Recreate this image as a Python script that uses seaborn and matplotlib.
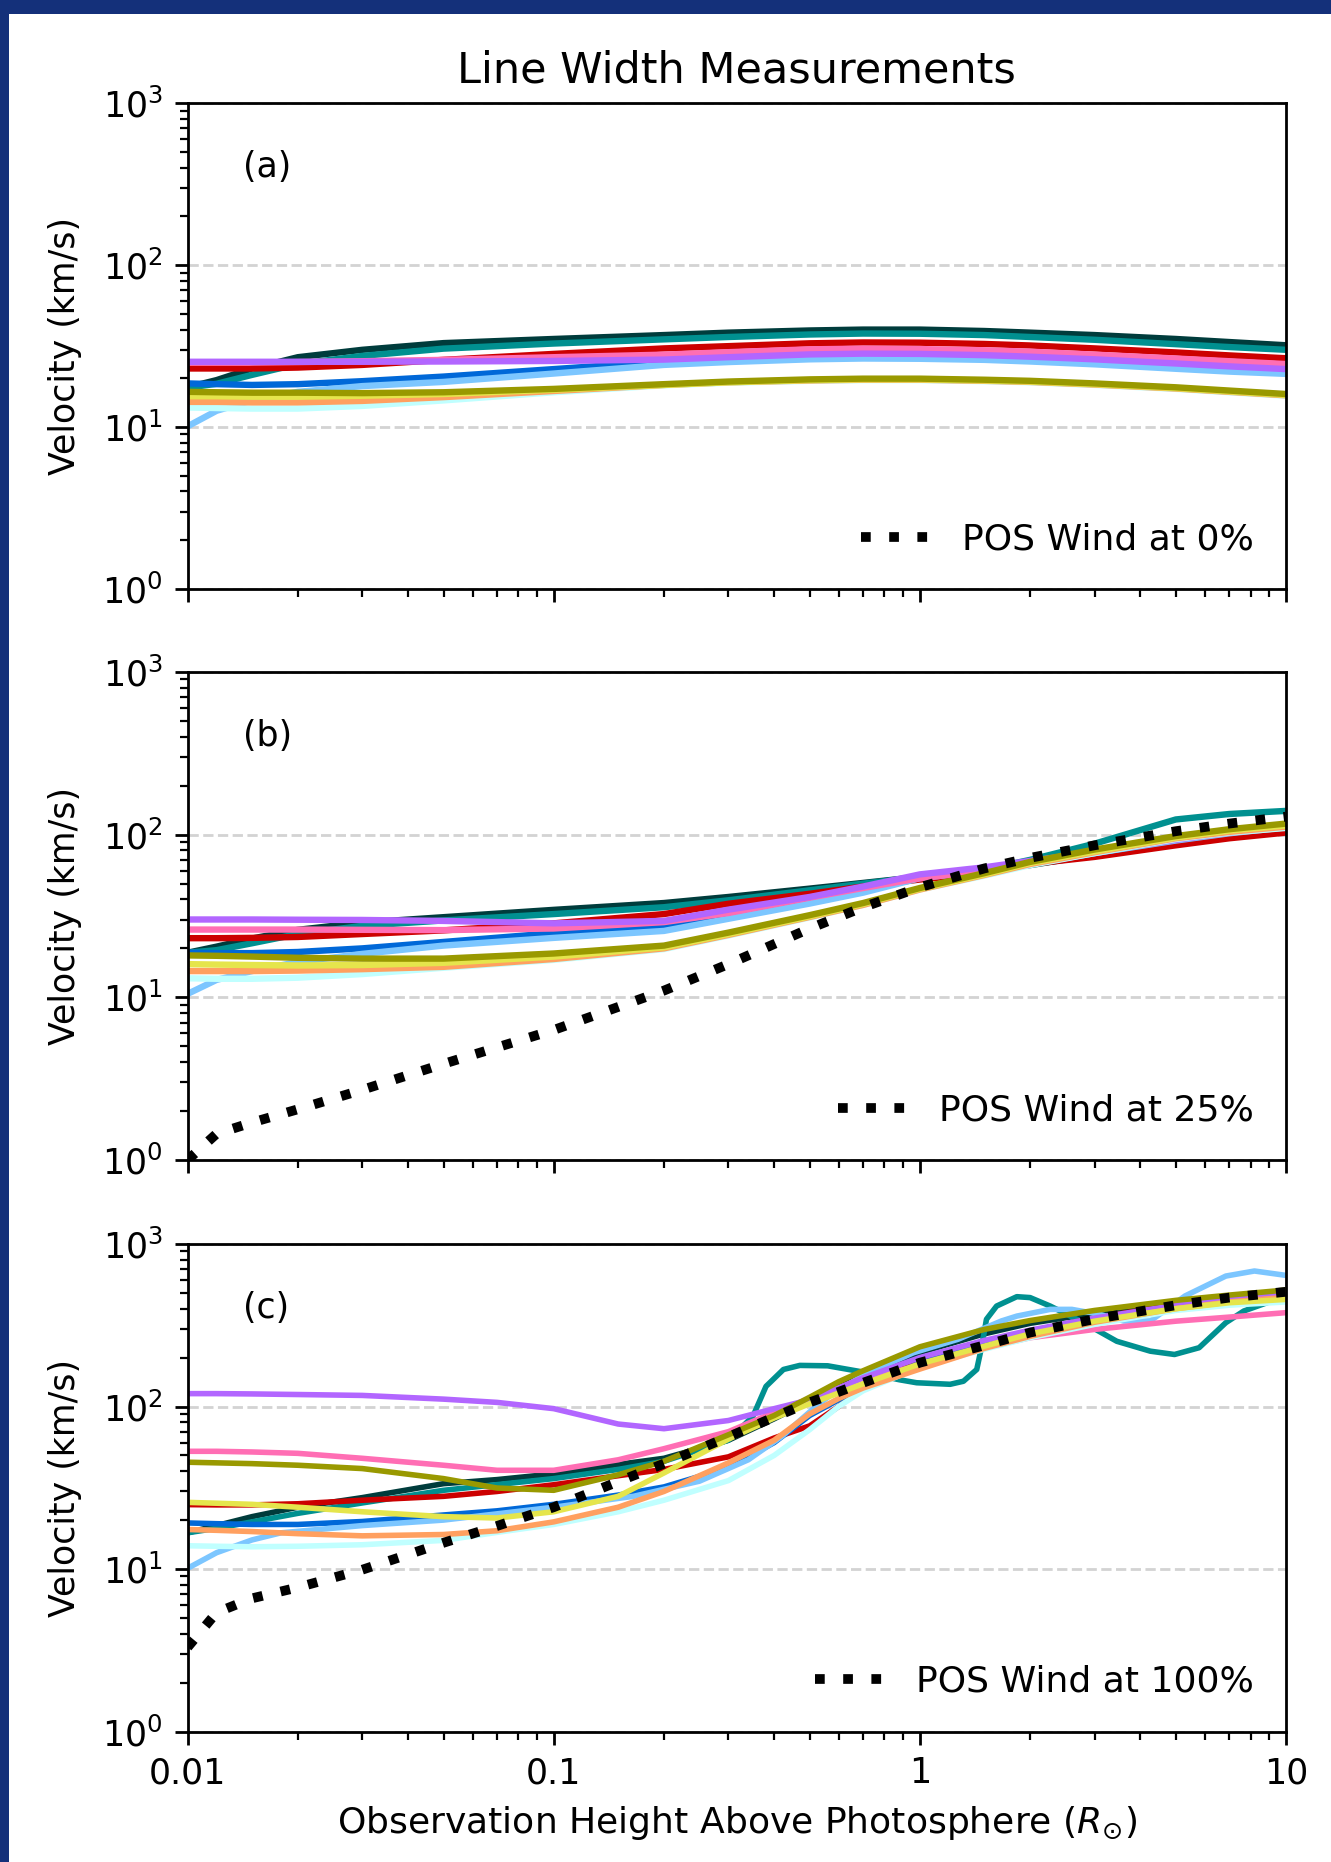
import numpy as np
import pandas as pd
import matplotlib
matplotlib.use("Agg")
import matplotlib.pyplot as plt
import seaborn as sns
from matplotlib.patches import Rectangle
from matplotlib.ticker import LogLocator, NullFormatter, FixedLocator, FixedFormatter

sns.set_style("ticks")
plt.rcParams['font.family'] = ['DejaVu Sans']
plt.rcParams['mathtext.fontset'] = 'dejavusans'
for key in ['text.color', 'axes.labelcolor', 'xtick.color', 'ytick.color', 'axes.edgecolor']:
    plt.rcParams[key] = 'black'

# ---------------- data ----------------
series_order = ['dkgreen', 'teal', 'red', 'blue', 'lblue', 'pink', 'purple',
                'cyan', 'orange', 'yellow', 'olive']
series_colors = ['#003c3c', '#009090', '#cc0000', '#0068d8', '#7cc6ff', '#ff6eb4',
                 '#b266ff', '#c0ffff', '#ffa060', '#e5e54c', '#999900']

x_ab = [0.01, 0.012, 0.015, 0.02, 0.03, 0.05, 0.1, 0.2, 0.3, 0.5, 0.7, 1, 1.5, 2, 3, 5, 7, 10]

# panel (a)
a_dkgreen = [17.6, 19.5, 23.0, 27.0, 30.0, 33.0, 35.0, 37.0, 38.3, 39.5, 40.0, 40.0, 39.2, 38.3, 37.0, 35.0, 33.5, 32.0]
a_teal = [17.5, 18.5, 21.0, 24.5, 27.5, 30.5, 32.8, 34.8, 36.0, 37.3, 37.8, 37.7, 37.0, 36.0, 34.6, 32.5, 31.2, 30.0]
a_red = [23.0, 23.0, 23.0, 23.3, 24.2, 26.0, 28.3, 30.6, 31.6, 32.9, 33.3, 33.2, 32.6, 31.9, 30.6, 28.9, 27.7, 26.6]
a_blue = [18.6, 18.4, 18.2, 18.4, 19.2, 20.5, 22.8, 25.4, 26.5, 27.4, 27.7, 27.6, 27.1, 26.5, 25.5, 24.0, 23.0, 22.1]
a_lblue = [10.1, 12.6, 14.6, 16.5, 17.9, 19.0, 21.4, 24.2, 25.2, 26.2, 26.5, 26.4, 26.0, 25.4, 24.4, 22.9, 22.0, 21.3]
a_pink = [25.0, 25.0, 25.0, 25.2, 25.5, 26.0, 27.0, 28.0, 29.0, 30.2, 30.5, 30.3, 29.8, 29.2, 28.0, 26.5, 25.5, 24.5]
a_purple = [25.3, 25.3, 25.3, 25.3, 25.3, 25.4, 25.6, 26.1, 27.0, 28.1, 28.4, 28.3, 27.8, 27.2, 26.2, 24.7, 23.7, 22.8]
a_cyan = [13.2, 13.1, 13.0, 13.0, 13.5, 14.6, 16.4, 18.1, 18.8, 19.3, 19.5, 19.5, 19.2, 18.9, 18.2, 17.2, 16.4, 15.6]
a_orange = [14.3, 14.3, 14.2, 14.2, 14.5, 15.3, 16.7, 18.2, 18.9, 19.4, 19.6, 19.6, 19.3, 19.0, 18.3, 17.3, 16.5, 15.7]
a_yellow = [15.5, 15.5, 15.4, 15.4, 15.6, 16.0, 17.0, 18.2, 18.9, 19.5, 19.7, 19.7, 19.4, 19.1, 18.4, 17.4, 16.6, 15.8]
a_olive = [16.5, 16.4, 16.3, 16.3, 16.2, 16.4, 17.2, 18.4, 19.1, 19.7, 19.9, 19.9, 19.6, 19.3, 18.6, 17.6, 16.8, 16.0]
a_wind = [0.0, 0.0, 0.0, 0.0, 0.0, 0.0, 0.0, 0.0, 0.0, 0.0, 0.0, 0.0, 0.0, 0.0, 0.0, 0.0, 0.0, 0.0]

# panel (b)
b_dkgreen = [18.8, 20.5, 23.0, 26.0, 28.8, 31.1, 34.5, 38.0, 41.4, 46.6, 50.5, 55.0, 60.0, 65.0, 75.0, 92.0, 104.0, 114.0]
b_teal = [18.8, 19.5, 21.5, 24.5, 27.5, 29.7, 32.5, 35.8, 39.5, 45.5, 50.0, 55.0, 61.0, 70.0, 88.0, 124.0, 134.0, 140.0]
b_red = [23.1, 23.1, 23.2, 23.5, 24.5, 25.8, 28.5, 32.5, 37.6, 43.3, 48.0, 53.0, 58.0, 66.0, 73.0, 86.0, 95.0, 103.0]
b_blue = [18.8, 18.7, 18.7, 19.0, 20.0, 21.9, 24.8, 27.4, 31.9, 39.5, 45.0, 55.0, 60.0, 66.0, 77.0, 93.0, 103.0, 112.0]
b_lblue = [10.5, 12.8, 14.5, 16.5, 18.5, 20.8, 23.2, 25.6, 30.4, 37.7, 44.0, 54.0, 60.0, 66.0, 77.0, 92.0, 102.0, 111.0]
b_pink = [26.1, 26.1, 26.1, 26.1, 26.0, 25.9, 26.5, 29.0, 33.0, 41.0, 47.0, 54.0, 60.0, 67.0, 78.0, 95.0, 105.0, 113.0]
b_purple = [30.1, 30.1, 30.1, 30.0, 29.9, 29.5, 28.5, 29.5, 34.6, 41.4, 48.0, 57.0, 63.0, 69.0, 78.0, 93.0, 103.0, 112.0]
b_cyan = [13.1, 13.0, 13.0, 13.2, 13.9, 15.2, 17.0, 19.8, 24.0, 31.0, 37.0, 46.0, 56.0, 65.0, 77.0, 94.0, 103.0, 110.0]
b_orange = [14.5, 14.5, 14.5, 14.6, 14.9, 15.4, 17.2, 20.0, 24.2, 31.2, 37.0, 46.0, 56.5, 66.0, 78.0, 95.0, 104.0, 112.0]
b_yellow = [16.0, 15.9, 15.8, 15.7, 15.8, 16.3, 17.8, 20.3, 24.5, 31.5, 37.5, 46.5, 57.0, 67.0, 79.0, 96.0, 106.0, 114.0]
b_olive = [18.1, 18.0, 17.8, 17.5, 17.3, 17.3, 18.6, 20.8, 25.0, 32.0, 38.0, 47.0, 58.0, 68.0, 81.0, 98.0, 108.0, 117.0]
b_wind = [1.0, 1.45, 1.7, 2.05, 2.7, 3.9, 6.3, 11.0, 16.0, 26.5, 35.8, 47.5, 62.0, 72.0, 86.0, 105.0, 117.0, 129.0]

# panel (c)
x_c = [0.01, 0.012, 0.015, 0.02, 0.03, 0.05, 0.07, 0.1, 0.15, 0.2, 0.3, 0.4, 0.5, 0.6, 0.7, 1, 1.5, 2, 3, 5, 7, 10]
c_dkgreen = [16.7, 18.5, 21.0, 24.0, 27.5, 33.5, 35.5, 38.5, 44.0, 48.0, 62.0, 84.0, 108.0, 132.0, 155.0, 215.0, 280.0, 325.0, 375.0, 435.0, 478.0, 505.0]
c_red = [24.9, 24.8, 24.8, 25.2, 26.5, 28.0, 30.0, 33.0, 37.5, 41.0, 49.0, 64.0, 76.0, 100.0, 135.0, 195.0, 245.0, 290.0, 350.0, 425.0, 465.0, 495.0]
c_blue = [19.2, 19.0, 18.8, 18.8, 19.6, 21.5, 22.8, 25.0, 28.5, 32.0, 42.0, 60.0, 88.0, 110.0, 132.0, 185.0, 240.0, 285.0, 345.0, 420.0, 460.0, 490.0]
c_pink = [53.0, 53.0, 52.5, 51.5, 48.0, 43.5, 40.5, 40.5, 47.0, 55.0, 70.0, 92.0, 112.0, 130.0, 150.0, 177.0, 230.0, 265.0, 298.0, 335.0, 355.0, 378.0]
c_purple = [120.0, 120.0, 119.5, 118.5, 117.0, 111.0, 106.0, 97.0, 78.0, 73.0, 82.0, 97.0, 110.0, 130.0, 150.0, 200.0, 255.0, 295.0, 350.0, 420.0, 460.0, 490.0]
c_cyan = [13.9, 13.8, 13.7, 13.8, 14.1, 15.0, 16.8, 18.8, 22.5, 26.5, 35.0, 50.0, 72.0, 100.0, 125.0, 175.0, 225.0, 265.0, 320.0, 390.0, 420.0, 440.0]
c_orange = [17.5, 17.3, 17.0, 16.5, 16.0, 16.3, 17.2, 19.5, 24.0, 30.0, 45.0, 62.0, 90.0, 112.0, 130.0, 170.0, 228.0, 270.0, 330.0, 400.0, 440.0, 470.0]
c_yellow = [25.7, 25.4, 25.0, 24.0, 22.5, 21.0, 20.6, 22.5, 28.0, 39.0, 63.0, 85.0, 104.0, 121.0, 138.0, 183.0, 235.0, 280.0, 335.0, 400.0, 435.0, 456.0]
c_olive = [45.4, 45.0, 44.5, 43.5, 41.5, 36.0, 31.5, 30.5, 38.0, 46.0, 67.0, 88.0, 114.0, 142.0, 166.0, 233.0, 298.0, 338.0, 390.0, 450.0, 485.0, 521.0]
c_wind = [3.3, 5.4, 6.6, 7.7, 9.9, 14.5, 18.4, 24.0, 34.5, 44.5, 65.0, 86.0, 106.0, 123.0, 140.0, 186.0, 238.0, 285.0, 345.0, 420.0, 468.0, 508.0]

x_teal_c = [0.01, 0.012, 0.015, 0.02, 0.03, 0.05, 0.1, 0.15, 0.2, 0.3, 0.35, 0.38, 0.424, 0.47, 0.56,
            0.71, 0.88, 0.98, 1.21, 1.315, 1.43, 1.476, 1.52, 1.62, 1.84, 2.0, 2.27, 2.8, 3.45, 4.26,
            4.96, 5.79, 6.85, 7.67, 10.0]
c_teal = [16.7, 17.8, 19.5, 22.0, 25.5, 30.5, 36.0, 41.0, 46.0, 62.0, 87.0, 133.0, 169.0, 179.0, 178.0,
          162.0, 146.0, 140.0, 137.0, 143.0, 169.0, 235.0, 344.0, 415.0, 474.0, 468.0, 415.0, 328.0, 252.0, 219.0,
          209.0, 230.0, 328.0, 387.0, 479.0]

x_lblue_c = [0.01, 0.012, 0.015, 0.018, 0.03, 0.05, 0.1, 0.165, 0.25, 0.34, 0.42, 0.52, 0.58, 0.72, 0.96,
             1.27, 1.67, 1.84, 2.27, 2.6, 3.1, 3.6, 4.26, 5.3, 6.85, 8.2, 10.0]
c_lblue = [10.1, 12.6, 15.1, 16.7, 18.5, 20.0, 24.0, 28.0, 34.7, 47.0, 65.6, 100.0, 121.0, 161.0, 214.0,
           259.0, 336.0, 360.0, 396.0, 396.0, 369.0, 336.0, 336.0, 479.0, 635.0, 682.0, 641.0]

panel_labels = ['(a)', '(b)', '(c)']
wind_labels = ['POS Wind at 0%', 'POS Wind at 25%', 'POS Wind at 100%']
x_tick_vals = [0.01, 0.1, 1, 10]
x_tick_labels = ['0.01', '0.1', '1', '10']
title_text = 'Line Width Measurements'
xlabel_text = r'Observation Height Above Photosphere ($R_{\odot}$)'
ylabel_text = 'Velocity (km/s)'


def long_frame(xs_by_series, ys_by_series):
    rows = []
    for name in series_order:
        xs = xs_by_series[name]
        ys = ys_by_series[name]
        for xv, yv in zip(xs, ys):
            rows.append((name, xv, yv))
    return pd.DataFrame(rows, columns=['series', 'height', 'velocity'])


df_a = long_frame({n: x_ab for n in series_order},
                  {'dkgreen': a_dkgreen, 'teal': a_teal, 'red': a_red, 'blue': a_blue, 'lblue': a_lblue,
                   'pink': a_pink, 'purple': a_purple, 'cyan': a_cyan, 'orange': a_orange,
                   'yellow': a_yellow, 'olive': a_olive})
df_b = long_frame({n: x_ab for n in series_order},
                  {'dkgreen': b_dkgreen, 'teal': b_teal, 'red': b_red, 'blue': b_blue, 'lblue': b_lblue,
                   'pink': b_pink, 'purple': b_purple, 'cyan': b_cyan, 'orange': b_orange,
                   'yellow': b_yellow, 'olive': b_olive})
xs_c = {n: x_c for n in series_order}
xs_c['teal'] = x_teal_c
xs_c['lblue'] = x_lblue_c
df_c = long_frame(xs_c,
                  {'dkgreen': c_dkgreen, 'teal': c_teal, 'red': c_red, 'blue': c_blue, 'lblue': c_lblue,
                   'pink': c_pink, 'purple': c_purple, 'cyan': c_cyan, 'orange': c_orange,
                   'yellow': c_yellow, 'olive': c_olive})

frames = [df_a, df_b, df_c]
winds = [(x_ab, a_wind), (x_ab, b_wind), (x_c, c_wind)]
line_widths = [2.3, 2.3, 2.0]

# ---------------- figure ----------------
W, H = 1331, 1862
DPI = 200
fig = plt.figure(figsize=(W / DPI, H / DPI), dpi=DPI)
fig.patch.set_facecolor('white')

left = 187.6 / W
width = (1286.0 - 187.6) / W
tops = [103.3, 672.0, 1244.0]
bottoms = [588.9, 1160.0, 1731.5]
FS = 12.5

palette = dict(zip(series_order, series_colors))
axes = []
for i in range(3):
    ax = fig.add_axes([left, 1 - bottoms[i] / H, width, (bottoms[i] - tops[i]) / H])
    ax.set_xscale('log')
    ax.set_yscale('log', nonpositive='mask')
    ax.set_xlim(0.01, 10)
    ax.set_ylim(1, 1000)
    ax.yaxis.grid(True, which='major', linestyle='--', color='#d3d3d3', linewidth=1.0, zorder=0)
    ax.xaxis.grid(False)
    ax.set_axisbelow(True)

    sns.lineplot(data=frames[i], x='height', y='velocity', hue='series', hue_order=series_order,
                 palette=palette, estimator=None, sort=False, legend=False,
                 linewidth=line_widths[i], ax=ax)

    wx, wy = winds[i]
    ax.plot(wx, wy, color='black', linewidth=3.5, linestyle=(0, (1, 1.9)),
            label=wind_labels[i], zorder=5)
    ax.legend(loc='lower right', frameon=False, fontsize=13, handlelength=2.0)

    ax.text(0.05, 0.868, panel_labels[i], transform=ax.transAxes, fontsize=FS,
            ha='left', va='center')

    ax.yaxis.set_major_locator(LogLocator(base=10, numticks=10))
    ax.yaxis.set_minor_locator(LogLocator(base=10, subs=np.arange(2, 10), numticks=20))
    ax.yaxis.set_minor_formatter(NullFormatter())
    ax.xaxis.set_major_locator(FixedLocator(x_tick_vals))
    ax.xaxis.set_minor_locator(LogLocator(base=10, subs=np.arange(2, 10), numticks=20))
    ax.xaxis.set_minor_formatter(NullFormatter())
    if i == 2:
        ax.xaxis.set_major_formatter(FixedFormatter(x_tick_labels))
        ax.set_xlabel(xlabel_text, fontsize=13, labelpad=5.0)
    else:
        ax.xaxis.set_major_formatter(NullFormatter())
        ax.set_xlabel('')
    ax.set_ylabel(ylabel_text, fontsize=FS, labelpad=7.3)

    ax.tick_params(axis='both', which='major', length=4.7, width=1.0, direction='out',
                   labelsize=FS, top=False, right=False, pad=4.2)
    ax.tick_params(axis='both', which='minor', length=2.8, width=0.8, direction='out',
                   top=False, right=False)
    for sp in ax.spines.values():
        sp.set_visible(True)
        sp.set_linewidth(1.0)
        sp.set_color('black')
    axes.append(ax)

fig.text((187.6 + 1286.0) / 2 / W, 1 - 70.5 / H, title_text, fontsize=15.5,
         ha='center', va='center')

# navy frame strips
navy = '#14307a'
fig.add_artist(Rectangle((0, 1 - 14 / H), 1, 14 / H, transform=fig.transFigure,
                         facecolor=navy, edgecolor='none', zorder=10))
fig.add_artist(Rectangle((0, 0), 9 / W, 1, transform=fig.transFigure,
                         facecolor=navy, edgecolor='none', zorder=10))

fig.savefig('out.png', dpi=DPI)
